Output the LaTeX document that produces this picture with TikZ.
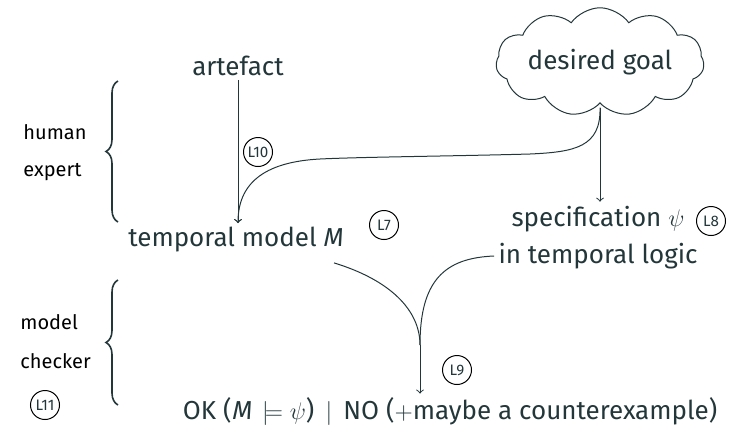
\documentclass[tikz,border=0pt]{standalone}
\usepackage{fontspec}
\setmainfont{Fira Sans}
\usetikzlibrary{shapes.symbols,decorations.pathreplacing}
\definecolor{dteal}{HTML}{23373B}
\begin{document}
\begin{tikzpicture}[x=0.5pt,y=-0.5pt,
  txt/.style={text=dteal,font=\fontsize{13}{15}\selectfont,inner sep=2pt},
  lab/.style={text=black,font=\fontsize{10}{12}\selectfont,anchor=west,inner sep=0pt},
  circ/.style={draw=black,circle,line width=0.5pt,minimum size=14.5pt,inner sep=0pt,text=dteal,font=\fontsize{7.6}{8}\selectfont},
  conn/.style={draw=dteal,line width=0.5pt},
  arr/.style={conn,->},
  brc/.style={draw=dteal,decorate,decoration={brace,amplitude=6pt},line width=0.8pt}]
\useasboundingbox (0,0) rectangle (733,440);
% main nodes
\node[txt] (art) at (238,66) {artefact};
\node[txt,cloud,draw=dteal,line width=0.5pt,cloud puffs=11,cloud puff arc=110,aspect=2.5,minimum width=98pt,minimum height=40pt,inner sep=0pt] (goal) at (600,62) {desired goal};
\node[txt] (tm) at (236,240) {temporal model \textit{M}};
\node[txt] (spec) at (598,219) {specification $\psi$};
\node[txt] (spec2) at (598,256) {in temporal logic};
\node[txt] (ok) at (450,412) {OK (\kern0.5pt\textit{M}\kern1.5pt${}\models\psi$) \,$|$\, NO ($+$maybe a counterexample)};
\coordinate (mrg) at (420,345);
% labels
\node[lab] (hum) at (23,132) {human};
\node[lab] (exp) at (23,172) {expert};
\node[lab] (mod) at (20,322) {model};
\node[lab] (chk) at (20,361) {checker};
% circled marks
\node[circ] (l7) at (384,225) {L7};
\node[circ] (l8) at (711,221) {L8};
\node[circ] (l9) at (457,370) {L9};
\node[circ] (l10) at (258,152) {L10};
\node[circ] (l11) at (45,405) {L11};
% braces
\coordinate (b1a) at (118,222);
\coordinate (b1b) at (118,81);
\coordinate (b2a) at (118,405);
\coordinate (b2b) at (118,280);
\draw[brc] (b1a) -- (b1b);
\draw[brc] (b2a) -- (b2b);
% connectors
\draw[arr] ([yshift=-2pt]goal.south) -- (spec.north -| goal.south);
\draw[arr] (art.south) -- (art.south |- tm.north);
\draw[arr] ([yshift=-2pt]goal.south) .. controls (601,147) and (575,152) .. (530,154)
  .. controls (460,156) and (360,157) .. (320,159)
  .. controls (262,162) and (238,185) .. (art.south |- tm.north);
\draw[conn] ([xshift=-7pt,yshift=-3pt]tm.south east) .. controls (390,280) and (420,310) .. (mrg);
\draw[conn] (spec2.west) .. controls (445,258) and (420,280) .. (mrg);
\draw[arr] (mrg) -- (ok.north -| mrg);
\end{tikzpicture}
\end{document}
